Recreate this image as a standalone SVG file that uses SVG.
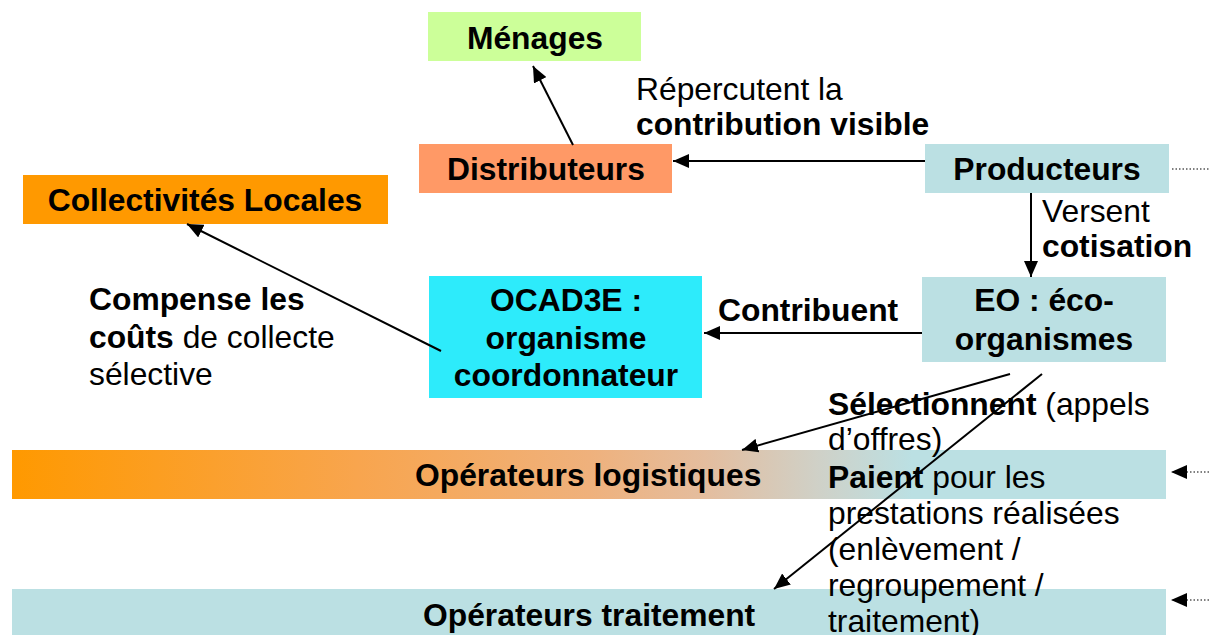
<svg xmlns="http://www.w3.org/2000/svg" width="1209" height="635" viewBox="0 0 1209 635">
<style>
text{font-family:"Liberation Sans",Arial,sans-serif;font-size:31.8px;fill:#000}
.b{font-weight:bold}
.c{text-anchor:middle}
.ln{stroke:#000;stroke-width:2;fill:none}
.dot{stroke:#000;stroke-width:1.2;stroke-dasharray:1.5 2;fill:none}
.teal{fill:#BBE0E3}
</style>
<defs>
<marker id="ah" viewBox="0 0 16 14" refX="16" refY="7" markerWidth="16" markerHeight="14" markerUnits="userSpaceOnUse" orient="auto">
<path d="M0,0 L16,7 L0,14 z" fill="#000"/>
</marker>
<linearGradient id="grad" x1="0" y1="0" x2="1" y2="0">
<stop offset="0" stop-color="#FF9900"/>
<stop offset="0.3" stop-color="#F8A54E"/>
<stop offset="0.5" stop-color="#EFB17C"/>
<stop offset="0.6" stop-color="#E4BD9E"/>
<stop offset="0.7" stop-color="#CFD1C8"/>
<stop offset="0.78" stop-color="#BBE0E3"/>
<stop offset="1" stop-color="#BBE0E3"/>
</linearGradient>
</defs>

<g id="op-logistiques">
<rect x="12" y="450" width="1154" height="49" fill="url(#grad)"/>
<text class="b" x="415" y="486">Opérateurs logistiques</text>
</g>
<g id="op-traitement">
<rect class="teal" x="12" y="589" width="1154" height="46"/>
<text class="b" x="423" y="626">Opérateurs traitement</text>
</g>

<g id="menages">
<rect x="428" y="12" width="213" height="49" fill="#CCFF99"/>
<text class="b c" x="535" y="49">Ménages</text>
</g>
<g id="distributeurs">
<rect x="419" y="144" width="253" height="49" fill="#FF9966"/>
<text class="b c" x="546" y="180">Distributeurs</text>
</g>
<g id="producteurs">
<rect class="teal" x="925" y="144" width="244" height="49"/>
<text class="b c" x="1047" y="180">Producteurs</text>
</g>
<g id="collectivites">
<rect x="23" y="175" width="365" height="49" fill="#FF9900"/>
<text class="b c" x="205" y="211">Collectivités Locales</text>
</g>
<g id="ocad3e">
<rect x="429" y="276" width="273" height="122" fill="#2DEBFB"/>
<text class="b c" x="566" y="311">OCAD3E :</text>
<text class="b c" x="566" y="349">organisme</text>
<text class="b c" x="566" y="386">coordonnateur</text>
</g>
<g id="eo">
<rect class="teal" x="922" y="277" width="244" height="85"/>
<text class="b c" x="1044" y="311">EO : éco-</text>
<text class="b c" x="1044" y="350">organismes</text>
</g>

<g id="labels">
<text x="636" y="100">Répercutent la</text>
<text class="b" x="636" y="135">contribution visible</text>
<text x="1042" y="222">Versent</text>
<text class="b" x="1042" y="257">cotisation</text>
<text class="b" x="718" y="321">Contribuent</text>
<text class="b" x="89" y="310">Compense les</text>
<text x="89" y="348"><tspan class="b">coûts</tspan> de collecte</text>
<text x="89" y="385">sélective</text>
<text x="828" y="415"><tspan class="b">Sélectionnent</tspan> (appels</text>
<text x="828" y="450">d’offres)</text>
<text x="828" y="488"><tspan class="b">Paient</tspan> pour les</text>
<text x="828" y="524">prestations réalisées</text>
<text x="828" y="560">(enlèvement /</text>
<text x="828" y="596">regroupement /</text>
<text x="828" y="632">traitement)</text>
</g>

<g id="connectors">
<line class="ln" x1="573" y1="145" x2="533" y2="66" marker-end="url(#ah)"/>
<line class="ln" x1="925" y1="161" x2="673" y2="161" marker-end="url(#ah)"/>
<line class="ln" x1="1031" y1="193" x2="1031" y2="277" marker-end="url(#ah)"/>
<line class="ln" x1="922" y1="333" x2="704" y2="333" marker-end="url(#ah)"/>
<line class="ln" x1="441" y1="351" x2="187" y2="224" marker-end="url(#ah)"/>
<line class="ln" x1="1010" y1="374" x2="742" y2="450" marker-end="url(#ah)"/>
<line class="ln" x1="1042" y1="374" x2="774" y2="589" marker-end="url(#ah)"/>
<line class="dot" x1="1172" y1="169" x2="1209" y2="169"/>
<line class="dot" x1="1209" y1="472" x2="1171" y2="472" marker-end="url(#ah)"/>
<line class="dot" x1="1209" y1="600" x2="1171" y2="600" marker-end="url(#ah)"/>
</g>
</svg>
